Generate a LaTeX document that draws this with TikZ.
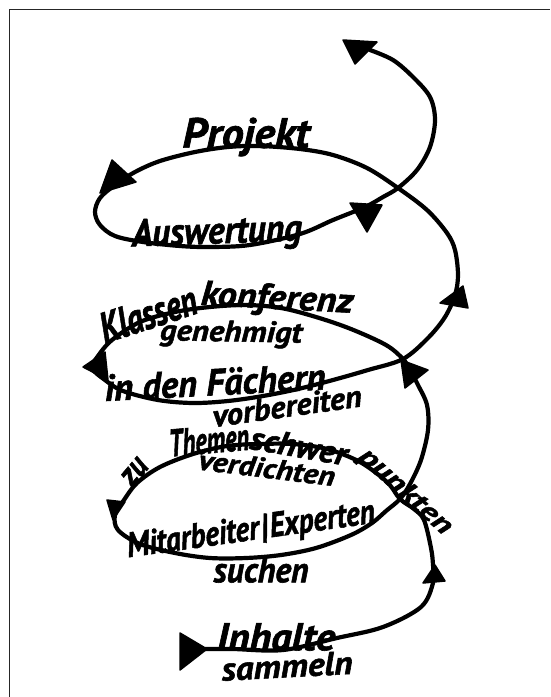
\documentclass[tikz,border=0pt]{standalone}
\usepackage{fontspec}
\setmainfont{PT Sans}
\newfontfamily\hand{PT Sans}[BoldItalicFeatures={FakeBold=1.6}]
\newcommand\hw[3]{\resizebox{#1pt}{#2pt}{\fontsize{20}{24}\hand\bfseries\itshape #3}}
\begin{document}
\begin{tikzpicture}[x=1pt,y=-1pt,
  spiral/.style={line width=4.2pt, line cap=round, line join=round},
  head/.style={fill=black, draw=black, line width=1.5pt, line join=round},
  lab/.style={inner sep=0pt, anchor=center}]
\useasboundingbox (0,0) rectangle (550,697);
% frame (cropped)
\draw[line width=1.6pt, black!85] (9.5,697) -- (9.5,9.5) -- (550,9.5);
% spiral path
\draw[spiral] plot[smooth, tension=0.55] coordinates {
 (205,649) (233,649) (283,650) (337,638) (383,627) (421,607) (433,583)
 (433,565) (431,548) (424,520) (414,509) (400,499)
 (387,482) (360,462) (327,449) (293,444) (260,444) (227,446) (193,454)
 (160,467) (137,483) (124,500) (115,515) (118,530) (140,544) (175,553)
 (210,558) (246,558) (281,555) (316,548) (351,535) (372,523) (386,511)
 (400,499) (410,484) (421,460) (428,430) (427,405) (418,385) (410,370)
 (403,359) (386,345) (351,329) (316,317) (281,308) (246,305) (210,307)
 (175,312) (140,322) (112,340) (98,356) (92,368) (105,380) (123,391)
 (158,400) (193,403) (228,401) (263,396) (298,389) (333,380) (368,370)
 (403,359) (428,338) (445,317) (455,295) (458,275) (455,250) (447,233)
 (427,210) (398,188) (367,168) (333,155) (300,149) (260,146) (228,147)
 (195,152) (160,161) (135,172) (115,185) (100,198) (95,212) (100,225)
 (115,236) (143,242) (180,246) (210,247) (250,245) (300,234) (333,220)
 (365,207) (383,197) (398,188) (417,170) (430,147) (435,120) (430,97)
 (413,77) (393,60) (370,50)};
% arrowheads
\filldraw[head] (343,40) -- (377,42) -- (355,64) -- cycle;
\filldraw[head] (350,203) -- (382,205) -- (367,232) -- cycle;
\filldraw[head] (112,160) -- (136,182) -- (100,193) -- cycle;
\filldraw[head] (83,367) -- (105,352) -- (108,380) -- cycle;
\filldraw[head] (401,360) -- (428,370) -- (405,388) -- cycle;
\filldraw[head] (463,286) -- (440,303) -- (468,308) -- cycle;
\filldraw[head] (107,500) -- (125,502) -- (113,520) -- cycle;
\filldraw[head] (435,565) -- (423,583) -- (445,581) -- cycle;
\filldraw[head] (180,633) -- (207,649) -- (180,670) -- cycle;
% labels
\node[lab] (projekt) at (246,137) {\hw{127}{30}{Projekt}};
\node[lab, rotate=2] (auswertung) at (217,234) {\hw{170}{27}{Auswertung}};
\node[lab, rotate=18] (klassen) at (148,314) {\hw{100}{30}{Klassen}};
\node[lab, rotate=-3] (konferenz) at (277,300) {\hw{152}{25}{konferenz}};
\node[lab, rotate=-1] (genehmigt) at (231,334) {\hw{142}{21}{genehmigt}};
\node[lab, rotate=3] (faechern) at (215,382) {\hw{221}{27}{in den Fächern}};
\node[lab, rotate=8] (vorbereiten) at (287,406) {\hw{150}{22}{vorbereiten}};
\node[lab, rotate=50] (zu) at (135,472) {\hw{27}{17}{zu}};
\node[lab, rotate=5] (themen) at (209,440) {\hw{80}{27}{Themen}};
\node[lab, rotate=-10] (schwer) at (299,446) {\hw{98}{23}{schwer}};
\node[lab, rotate=-42] (punkten) at (405,492) {\hw{116}{19}{punkten}};
\node[lab, rotate=-7] (verdichten) at (267,468) {\hw{137}{20}{verdichten}};
\node[lab, rotate=8] (mitarbeiter) at (251,531) {\hw{250}{25}{Mitarbeiter\rotatebox[origin=c]{-10}{|}Experten}};
\node[lab] (suchen) at (261,570) {\hw{95}{25}{suchen}};
\node[lab] (inhalte) at (276,637) {\hw{118}{27}{Inhalte}};
\node[lab, rotate=3] (sammeln) at (287,666) {\hw{131}{23}{sammeln}};
\end{tikzpicture}
\end{document}
